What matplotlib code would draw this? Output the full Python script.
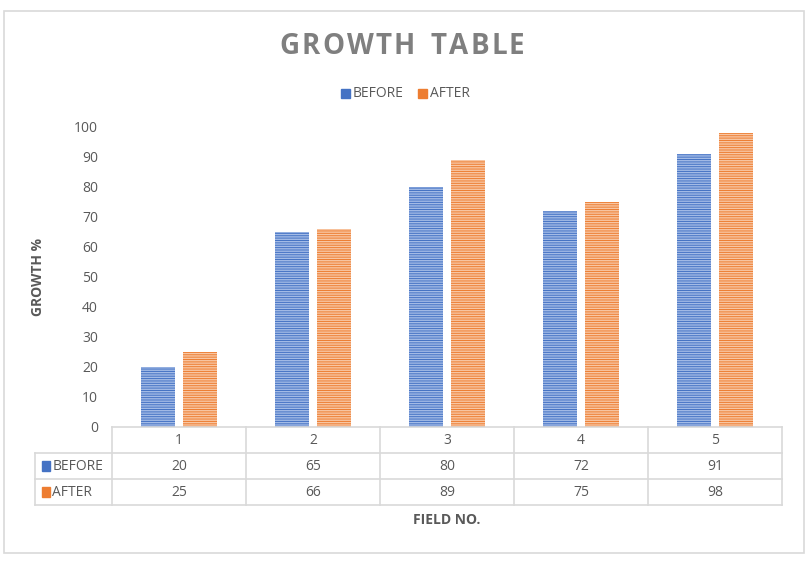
import matplotlib
matplotlib.use('Agg')
import matplotlib.pyplot as plt
from matplotlib.patches import Rectangle
import matplotlib.transforms as mtransforms

# data
fields = ['1', '2', '3', '4', '5']
before = [20, 65, 80, 72, 91]
after = [25, 66, 89, 75, 98]
series_names = ['BEFORE', 'AFTER']

blue = '#4472C4'
blue_light = '#A3BBE6'
orange = '#ED7D31'
orange_light = '#F8C6A3'
grid_gray = '#D9D9D9'
text_gray = '#595959'

plt.rcParams['font.family'] = ['Open Sans', 'DejaVu Sans']
plt.rcParams['hatch.linewidth'] = 1.0

W, H = 806, 570
fig = plt.figure(figsize=(W / 100, H / 100), dpi=100)

# pixel box of the plot area
left, right, top, bottom = 112, 782, 127, 427
ax = fig.add_axes([left / W, 1 - bottom / H, (right - left) / W, (bottom - top) / H])

x = list(range(len(fields)))
w = 0.26
off = 0.157
ax.bar([i - off for i in x], before, width=w, color=blue, edgecolor=blue_light,
       hatch='-------', linewidth=0)
ax.bar([i + off for i in x], after, width=w, color=orange, edgecolor=orange_light,
       hatch='-------', linewidth=0)

ax.set_xlim(-0.5, len(fields) - 0.5)
ax.set_ylim(0, 100)
ax.set_yticks(range(0, 101, 10))
ax.tick_params(axis='y', length=0, labelsize=10, labelcolor=text_gray, pad=10)
ax.set_xticks([])
for s in ['top', 'right', 'left']:
    ax.spines[s].set_visible(False)
ax.spines['bottom'].set_color(grid_gray)
ax.spines['bottom'].set_linewidth(1.2)

# data table under the axis
trans = mtransforms.blended_transform_factory(ax.transData, ax.transAxes)
rh = 26 / (bottom - top)
rows = [-rh, -2 * rh, -3 * rh]
xl = -0.5 - 77 / 134
xr = len(fields) - 0.5
lk = dict(color=grid_gray, lw=1.2, transform=trans, clip_on=False)
for yv in rows:
    ax.plot([xl, xr], [yv, yv], **lk)
ax.plot([xl, xl], [-rh, -3 * rh], **lk)
for k in range(len(fields) + 1):
    ax.plot([k - 0.5, k - 0.5], [0, -3 * rh], **lk)

for i, f in enumerate(fields):
    ax.text(i, -0.5 * rh, f, ha='center', va='center', fontsize=10,
            color=text_gray, transform=trans)
    ax.text(i, -1.5 * rh, str(before[i]), ha='center', va='center', fontsize=10,
            color=text_gray, transform=trans)
    ax.text(i, -2.5 * rh, str(after[i]), ha='center', va='center', fontsize=10,
            color=text_gray, transform=trans)

for j, (name, c) in enumerate(zip(series_names, [blue, orange])):
    yc = -(1.5 + j) * rh
    ax.add_patch(Rectangle((xl + 0.05, yc - 0.015), 0.065, 0.032, color=c,
                           transform=trans, clip_on=False))
    ax.text(xl + 0.13, yc, name, ha='left', va='center', fontsize=10,
            color=text_gray, transform=trans)

# title with wide letter spacing
title = 'GROWTH TABLE'
tsize = 20
spacing = 2.2
renderer = fig.canvas.get_renderer()
widths = []
for ch in title:
    t = fig.text(0, 0, ch if ch != ' ' else 'I', fontsize=tsize, fontweight='bold')
    bb = t.get_window_extent(renderer)
    widths.append(bb.width if ch != ' ' else bb.width * 1.2)
    t.remove()
total = sum(widths) + spacing * (len(title) - 1)
cx = 402 - total / 2
for ch, cw in zip(title, widths):
    if ch != ' ':
        fig.text(cx / W, 1 - 46 / H, ch, ha='left', va='center', fontsize=tsize,
                 fontweight='bold', color='#7F7F7F')
    cx += cw + spacing

fig.text(38 / W, 1 - 277 / H, 'GROWTH %', ha='center', va='center', rotation=90,
         fontsize=10, fontweight='bold', color=text_gray)
fig.text(447 / W, 1 - 520 / H, 'FIELD NO.', ha='center', va='center',
         fontsize=10, fontweight='bold', color=text_gray)

# legend on top
lx = 341
fig.patches.append(Rectangle((lx / W, 1 - 98 / H), 9 / W, 9 / H, color=blue,
                             transform=fig.transFigure))
fig.text((lx + 12) / W, 1 - 93 / H, 'BEFORE', ha='left', va='center',
         fontsize=10, color=text_gray)
lx2 = 418
fig.patches.append(Rectangle((lx2 / W, 1 - 98 / H), 9 / W, 9 / H, color=orange,
                             transform=fig.transFigure))
fig.text((lx2 + 12) / W, 1 - 93 / H, 'AFTER', ha='left', va='center',
         fontsize=10, color=text_gray)

# chart border
fig.patches.append(Rectangle((4 / W, 1 - 553 / H), 800 / W, 542 / H, fill=False,
                             edgecolor=grid_gray, lw=1.2, transform=fig.transFigure))

fig.savefig('out.png', dpi=100)
